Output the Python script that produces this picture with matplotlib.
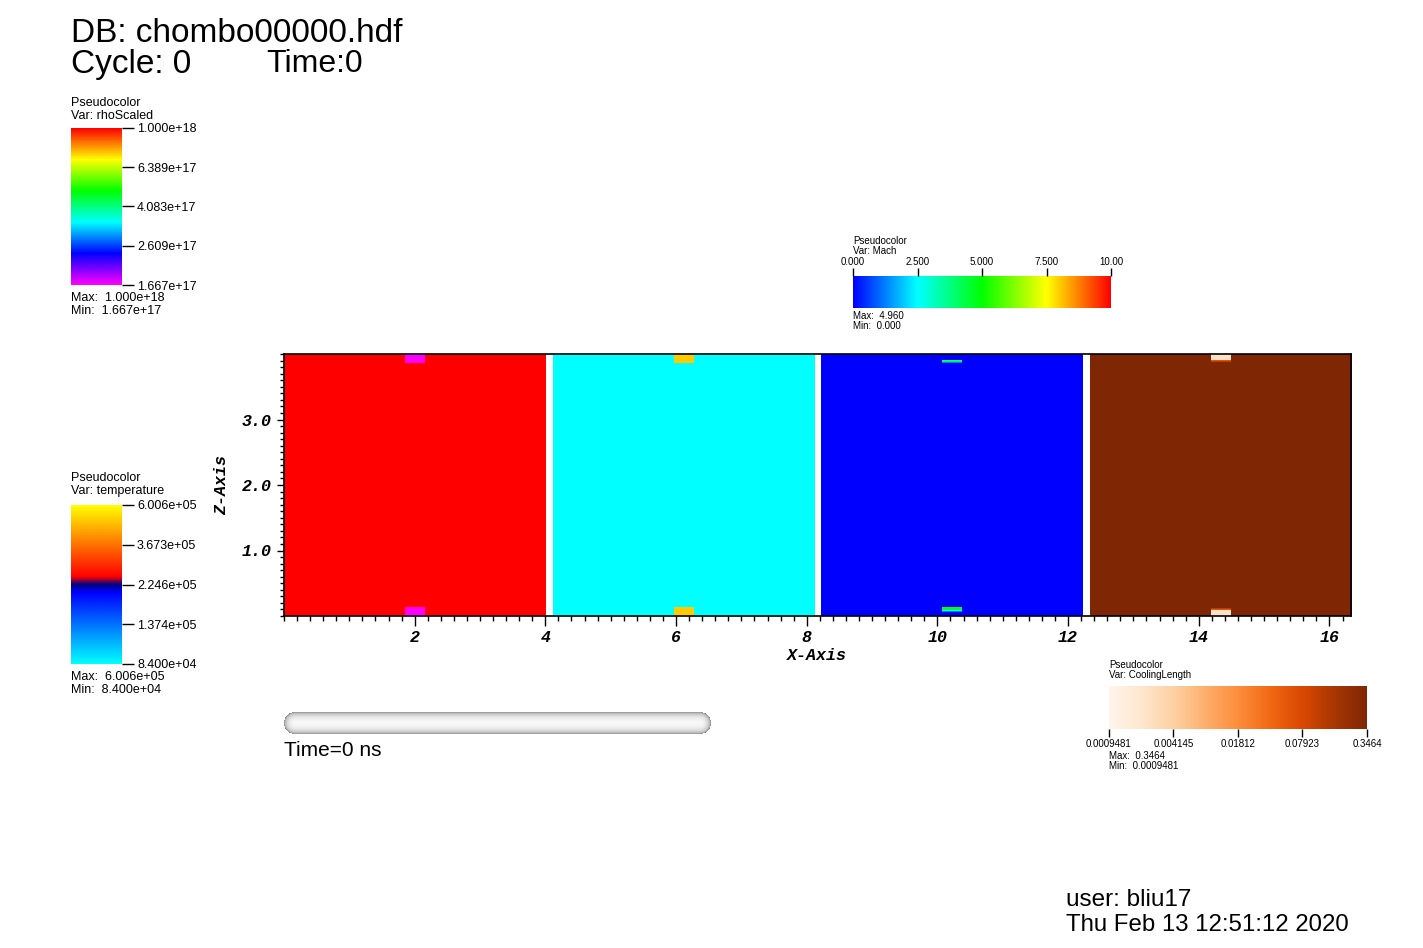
import numpy as np
import matplotlib
matplotlib.use('Agg')
import matplotlib.pyplot as plt
from matplotlib.colors import LinearSegmentedColormap, LogNorm, Normalize
from matplotlib.cm import ScalarMappable
from matplotlib.ticker import MultipleLocator

plt.rcParams['font.family'] = ['Liberation Sans', 'DejaVu Sans']

# ---- data ----
panel_vars = ['rhoScaled', 'temperature', 'Mach', 'CoolingLength']
panel_left = [0.0, 4.11, 8.22, 12.33]
panel_background = [1.0e18, 8.4e4, 0.0, 0.3464]

# small cells at x~2 of each block: top edge cell and bottom edge cell (sub-rows, top to bottom)
rho_spot_top = [1.667e17, 1.667e17, 1.667e17, 1.667e17, 1.667e17, 1.667e17, 1.667e17, 1.667e17, 1.667e17]
rho_spot_bottom = [1.667e17, 1.667e17, 1.667e17, 1.667e17, 1.667e17, 1.667e17, 1.667e17, 1.667e17, 1.667e17]
temp_spot_top = [5.0e5, 5.0e5, 5.0e5, 5.0e5, 5.0e5, 5.0e5, 5.0e5, 5.0e5, 5.0e5]
temp_spot_bottom = [5.0e5, 5.0e5, 5.0e5, 5.0e5, 5.0e5, 5.0e5, 5.0e5, 5.0e5, 5.0e5]
mach_spot_top = [0.0, 0.0, 0.0, 0.0, 0.0, 0.0, 3.6, 4.9, 1.2]
mach_spot_bottom = [4.9, 4.8, 4.5, 3.0, 1.2, 0.0, 0.0, 0.0, 0.0]
cool_spot_top = [0.0023, 0.0023, 0.0023, 0.0023, 0.0023, 0.0023, 0.06, 0.12, 0.3464]
cool_spot_bottom = [0.3464, 0.12, 0.06, 0.0023, 0.0023, 0.0023, 0.0023, 0.0023, 0.0023]

spots_top = [rho_spot_top, temp_spot_top, mach_spot_top, cool_spot_top]
spots_bottom = [rho_spot_bottom, temp_spot_bottom, mach_spot_bottom, cool_spot_bottom]

# legend ranges / ticks
rho_min, rho_max = 1.667e17, 1.000e18
rho_ticks = [1.667e17, 2.609e17, 4.083e17, 6.389e17, 1.000e18]
rho_labels = ['1.667e+17', '2.609e+17', '4.083e+17', '6.389e+17', '1.000e+18']
temp_min, temp_max = 8.400e4, 6.006e5
temp_ticks = [8.400e4, 1.374e5, 2.246e5, 3.673e5, 6.006e5]
temp_labels = ['8.400e+04', '1.374e+05', '2.246e+05', '3.673e+05', '6.006e+05']
mach_min, mach_max = 0.0, 10.0
mach_ticks = [0.0, 2.5, 5.0, 7.5, 10.0]
mach_labels = ['0.000', '2.500', '5.000', '7.500', '10.00']
cool_min, cool_max = 0.0009481, 0.3464
cool_ticks = [0.0009481, 0.004145, 0.01812, 0.07923, 0.3464]
cool_labels = ['0.0009481', '0.004145', '0.01812', '0.07923', '0.3464']

# ---- colormaps ----
cm_rainbow = LinearSegmentedColormap.from_list('rainbow_v', [(0.0, (1, 0, 1)), (0.2, (0, 0, 1)), (0.4, (0, 1, 1)),
                                                             (0.6, (0, 1, 0)), (0.8, (1, 1, 0)), (1.0, (1, 0, 0))])
cm_hotcold = LinearSegmentedColormap.from_list('hot_and_cold', [(0.0, (0, 1, 1)), (0.45, (0, 0, 1)), (0.5, (0, 0, 0.5)),
                                                                (0.55, (1, 0, 0)), (1.0, (1, 1, 0))])
cm_hot = LinearSegmentedColormap.from_list('hot_v', [(0.0, (0, 0, 1)), (0.25, (0, 1, 1)), (0.5, (0, 1, 0)),
                                                     (0.75, (1, 1, 0)), (1.0, (1, 0, 0))])
cm_orange = plt.cm.Oranges

norms = [LogNorm(rho_min, rho_max), LogNorm(temp_min, temp_max), Normalize(mach_min, mach_max), LogNorm(cool_min, cool_max)]
cmaps = [cm_rainbow, cm_hotcold, cm_hot, cm_orange]

W, H = 1423, 948


def fx(x):
    return x / W


def fy(y):
    return 1 - y / H


def box(x0, y0, x1, y1):
    return [fx(x0), fy(y1), fx(x1) - fx(x0), fy(y0) - fy(y1)]


fig = plt.figure(figsize=(W / 100, H / 100), dpi=100)

# ---- main plot ----
ax = fig.add_axes(box(284, 354, 1351, 616))
nx, nz, sub = 13, 29, 9
for i in range(4):
    grid = np.full((nz * sub, nx), panel_background[i], dtype=float)
    grid[:sub, nx // 2] = spots_top[i]
    grid[-sub:, nx // 2] = spots_bottom[i]
    ax.imshow(grid, cmap=cmaps[i], norm=norms[i], origin='upper', aspect='auto',
              interpolation='nearest', extent=(panel_left[i], panel_left[i] + 4.0, 0, 4.0))
ax.set_xlim(0, 16.33)
ax.set_ylim(0, 4.0)
ax.set_xticks(np.arange(2, 17, 2))
ax.set_xticklabels([str(v) for v in range(2, 17, 2)])
ax.set_yticks([1, 2, 3])
ax.set_yticklabels(['1.0', '2.0', '3.0'])
ax.xaxis.set_minor_locator(MultipleLocator(0.2))
ax.yaxis.set_minor_locator(MultipleLocator(0.1))
ax.tick_params(axis='x', which='major', direction='out', length=7, width=1, pad=3)
ax.tick_params(axis='x', which='minor', direction='out', length=3.6, width=1)
ax.tick_params(axis='y', which='major', direction='out', length=5, width=1, pad=4)
ax.tick_params(axis='y', which='minor', direction='out', length=2.6, width=1)
for lab in ax.get_xticklabels() + ax.get_yticklabels():
    lab.set_fontfamily('Liberation Mono')
    lab.set_fontweight('bold')
    lab.set_fontstyle('italic')
    lab.set_fontsize(12)
for sp in ax.spines.values():
    sp.set_linewidth(1.2)

mono = dict(family='Liberation Mono', weight='bold', style='italic', size=12)
fig.text(fx(817), fy(656), 'X-Axis', ha='center', va='center', **mono)
fig.text(fx(222), fy(485), 'Z-Axis', ha='center', va='center', rotation=90, **mono)

# ---- header / footer text ----
fig.text(fx(71), fy(34), 'DB: chombo00000.hdf', fontsize=24, va='center')
fig.text(fx(71), fy(64), 'Cycle: 0', fontsize=24, va='center')
fig.text(fx(266), fy(64), 'Time:0', fontsize=23, va='center')
fig.text(fx(1066), fy(900), 'user: bliu17', fontsize=17.5, va='center')
fig.text(fx(1066), fy(925), 'Thu Feb 13 12:51:12 2020', fontsize=17.3, va='center')


def style_cbar(cb, ticks, labels, size, length, pad):
    cb.outline.set_visible(False)
    cb.set_ticks(ticks)
    cb.set_ticklabels(labels)
    cb.ax.minorticks_off()
    cb.ax.tick_params(direction='out', length=length, width=1, labelsize=size, pad=pad)


# rho legend (vertical)
cax = fig.add_axes(box(71, 128, 122, 285))
cb = fig.colorbar(ScalarMappable(norms[0], cmaps[0]), cax=cax, orientation='vertical')
style_cbar(cb, rho_ticks, rho_labels, 9, 8.6, 2.2)
fig.text(fx(71), fy(103), 'Pseudocolor', fontsize=9, va='center')
fig.text(fx(71), fy(116), 'Var: rhoScaled', fontsize=9, va='center')
fig.text(fx(71), fy(298), 'Max:  1.000e+18', fontsize=9, va='center')
fig.text(fx(71), fy(311), 'Min:  1.667e+17', fontsize=9, va='center')

# temperature legend (vertical)
cax = fig.add_axes(box(71, 505, 122, 664))
cb = fig.colorbar(ScalarMappable(norms[1], cmaps[1]), cax=cax, orientation='vertical')
style_cbar(cb, temp_ticks, temp_labels, 9, 8.6, 2.2)
fig.text(fx(71), fy(478), 'Pseudocolor', fontsize=9, va='center')
fig.text(fx(71), fy(491), 'Var: temperature', fontsize=9, va='center')
fig.text(fx(71), fy(677), 'Max:  6.006e+05', fontsize=9, va='center')
fig.text(fx(71), fy(690), 'Min:  8.400e+04', fontsize=9, va='center')

# Mach legend (horizontal, ticks on top)
cax = fig.add_axes(box(853, 276, 1111, 308))
cb = fig.colorbar(ScalarMappable(norms[2], cmaps[2]), cax=cax, orientation='horizontal')
cax.xaxis.set_ticks_position('top')
style_cbar(cb, mach_ticks, mach_labels, 7, 5.8, 1.0)
fig.text(fx(853), fy(241), 'Pseudocolor', fontsize=7, va='center')
fig.text(fx(853), fy(251), 'Var: Mach', fontsize=7, va='center')
fig.text(fx(853), fy(316), 'Max:  4.960', fontsize=7, va='center')
fig.text(fx(853), fy(326), 'Min:  0.000', fontsize=7, va='center')

# cooling length legend (horizontal, ticks below)
cax = fig.add_axes(box(1109, 686, 1367, 729))
cb = fig.colorbar(ScalarMappable(norms[3], cmaps[3]), cax=cax, orientation='horizontal')
style_cbar(cb, cool_ticks, cool_labels, 7, 5.8, 1.5)
fig.text(fx(1109), fy(665), 'Pseudocolor', fontsize=7, va='center')
fig.text(fx(1109), fy(675), 'Var: CoolingLength', fontsize=7, va='center')
fig.text(fx(1109), fy(756), 'Max:  0.3464', fontsize=7, va='center')
fig.text(fx(1109), fy(766), 'Min:  0.0009481', fontsize=7, va='center')

# ---- time slider ----
sax = fig.add_axes(box(284, 712, 710, 734))
sw, sh = 426, 22
r = sh / 2.0
xx, yy = np.meshgrid(np.arange(sw) + 0.5, np.arange(sh) + 0.5)
cx = np.clip(xx, r, sw - r)
d = np.sqrt((xx - cx) ** 2 + (yy - r) ** 2) / r
inside = d <= 1.0
shade = 0.42 + 0.55 * np.clip(1 - d ** 2, 0, 1) ** 0.4
img = np.zeros((sh, sw, 4))
img[..., 0] = shade
img[..., 1] = shade
img[..., 2] = shade
img[..., 3] = inside.astype(float)
sax.imshow(img, extent=(0, sw, 0, sh), aspect='auto', interpolation='bilinear')
sax.axis('off')
fig.text(fx(284), fy(751), 'Time=0 ns', fontsize=15, va='center')

fig.savefig('out.png', dpi=100)
